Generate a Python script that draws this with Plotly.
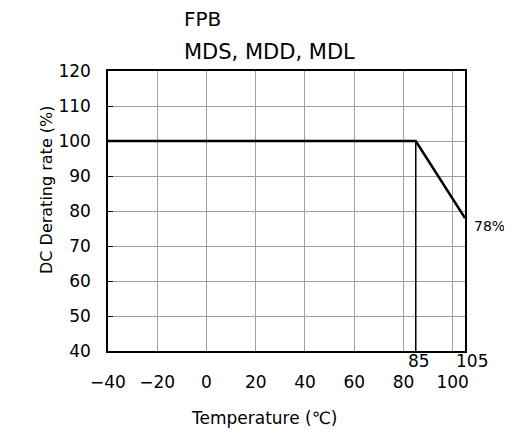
import plotly.graph_objects as go

# derating curve
temps = [-40, 85, 105]
rates = [100, 100, 78]

knee_temp = 85
end_temp = 105
end_rate = 78

x_ticks = [-40, -20, 0, 20, 40, 60, 80, 100]
y_ticks = [40, 50, 60, 70, 80, 90, 100, 110, 120]

FONT = "DejaVu Sans, Noto Sans CJK JP, sans-serif"
INK = "#000000"
GRID = "#a0a0a0"

# page body adds an 8px offset, so the figure is drawn 8px smaller
W, H = 504, 426
L, R, T, B = 100, 47, 63, 83
PH = H - T - B
PW = W - L - R


def px_x(x):
    return (x - L) / PW


def px_y(y):
    return 1 - (y - T) / PH


fig = go.Figure()

# vertical marker at the knee
fig.add_trace(go.Scatter(
    x=[knee_temp, knee_temp], y=[y_ticks[0], rates[1]],
    mode="lines", line=dict(color=INK, width=1.5), showlegend=False,
))
fig.add_trace(go.Scatter(
    x=temps, y=rates, mode="lines",
    line=dict(color=INK, width=2.5), showlegend=False,
))

fig.add_annotation(x=end_temp, y=end_rate, text=f"{end_rate}%", showarrow=False,
                   xanchor="left", yanchor="middle", xshift=7, yshift=-8,
                   font=dict(size=14, color=INK))
fig.add_annotation(x=knee_temp, y=y_ticks[0], text=str(knee_temp), showarrow=False,
                   xanchor="center", yanchor="top", xshift=3, yshift=2,
                   font=dict(size=17, color=INK))
fig.add_annotation(x=end_temp, y=y_ticks[0], text=str(end_temp), showarrow=False,
                   xanchor="center", yanchor="top", xshift=7, yshift=2,
                   font=dict(size=17, color=INK))

# two-line heading
fig.add_annotation(xref="paper", yref="paper", x=px_x(174), y=px_y(11),
                   text="FPB", showarrow=False, xanchor="left", yanchor="middle",
                   font=dict(size=20, color=INK))
fig.add_annotation(xref="paper", yref="paper", x=px_x(174), y=px_y(44),
                   text="MDS, MDD, MDL", showarrow=False, xanchor="left", yanchor="middle",
                   font=dict(size=21, color=INK))

# axis titles sit off-centre in the original, so place them by hand
fig.add_annotation(xref="paper", yref="paper", x=px_x(256), y=px_y(410),
                   text="Temperature (℃)", showarrow=False, xanchor="center", yanchor="middle",
                   font=dict(size=17, color=INK))
fig.add_annotation(xref="paper", yref="paper", x=px_x(38), y=px_y(182),
                   text="DC Derating rate (%)", showarrow=False, textangle=-90,
                   xanchor="center", yanchor="middle",
                   font=dict(size=16, color=INK))

fig.update_layout(
    width=W, height=H,
    margin=dict(l=L, r=R, t=T, b=B, autoexpand=False),
    paper_bgcolor="white", plot_bgcolor="white",
    font=dict(family=FONT, size=17, color=INK),
    xaxis=dict(range=[-40, 105], tickvals=x_ticks,
               ticktext=[str(v).replace("-", "−") for v in x_ticks],
               showgrid=True, gridcolor=GRID, gridwidth=1, zeroline=False,
               showline=True, linecolor=INK, linewidth=1.5, mirror=True,
               ticks="", tickfont=dict(size=17), ticklabelstandoff=15),
    yaxis=dict(range=[40, 120], tickvals=y_ticks,
               showgrid=True, gridcolor=GRID, gridwidth=1, zeroline=False,
               showline=True, linecolor=INK, linewidth=1.5, mirror=True,
               ticks="inside", ticklen=5, tickcolor=INK, tickfont=dict(size=17),
               ticklabelstandoff=12),
)

fig.write_html("out.html")
